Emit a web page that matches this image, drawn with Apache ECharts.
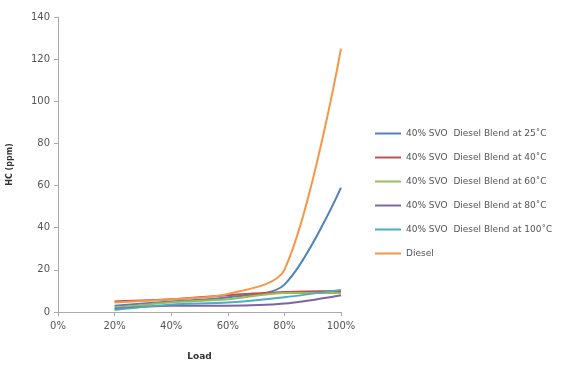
<!DOCTYPE html>
<html><head><meta charset="utf-8">
<script src="https://cdn.jsdelivr.net/npm/echarts@6/dist/echarts.min.js"></script>
<style>html,body{margin:0;padding:0;background:#fff}#c{width:571px;height:366px}</style>
</head><body><div id="c"></div>
<script>
const categories = ['0%', '20%', '40%', '60%', '80%', '100%'];
const seriesNames = [
  '40% SVO  Diesel Blend at 25\u02daC',
  '40% SVO  Diesel Blend at 40\u02daC',
  '40% SVO  Diesel Blend at 60\u02daC',
  '40% SVO  Diesel Blend at 80\u02daC',
  '40% SVO  Diesel Blend at 100\u02daC',
  'Diesel'
];
const blend25 = ['-', 3, 5, 7, 13, 59];
const blend40 = ['-', 5, 6, 8, 9.5, 10];
const blend60 = ['-', 2, 4.5, 6, 9, 9];
const blend80 = ['-', 1.5, 3, 3, 4, 8];
const blend100 = ['-', 1, 3.5, 4.5, 7, 10.5];
const diesel = ['-', 4.5, 6, 8.5, 20, 125];
const yTicks = [0, 20, 40, 60, 80, 100, 120, 140];

const colors = ['#4F81BD', '#C0504D', '#9BBB59', '#8064A2', '#4BACC6', '#F79646'];
const allData = [blend25, blend40, blend60, blend80, blend100, diesel];

const chart = echarts.init(document.getElementById('c'));
chart.setOption({
  animation: false,
  backgroundColor: '#fff',
  color: colors,
  grid: { left: 58, right: 230, top: 17, bottom: 53 },
  xAxis: {
    type: 'category', data: categories, boundaryGap: false,
    name: 'Load', nameLocation: 'middle', nameGap: 40,
    nameTextStyle: { fontFamily: 'DejaVu Sans', fontSize: 9, fontWeight: 'bold', color: '#333' },
    axisLine: { lineStyle: { color: '#aaa' } },
    axisTick: { show: true, alignWithLabel: true, length: 4, lineStyle: { color: '#aaa' } },
    axisLabel: { fontFamily: 'DejaVu Sans', fontSize: 10, color: '#555', margin: 9 },
    splitLine: { show: false }
  },
  yAxis: {
    type: 'value', min: yTicks[0], max: yTicks[yTicks.length - 1], interval: 20,
    name: 'HC (ppm)', nameLocation: 'middle', nameGap: 44, nameRotate: 90,
    nameTextStyle: { fontFamily: 'DejaVu Sans', fontSize: 8, fontWeight: 'bold', color: '#333' },
    axisLine: { show: true, lineStyle: { color: '#aaa' } },
    axisTick: { show: true, length: 4, lineStyle: { color: '#aaa' } },
    axisLabel: { fontFamily: 'DejaVu Sans', fontSize: 10, color: '#555', margin: 8 },
    splitLine: { show: false }
  },
  legend: {
    orient: 'vertical', left: 370, top: 124,
    itemWidth: 26, itemHeight: 2, itemGap: 15, icon: 'rect',
    textStyle: { fontFamily: 'DejaVu Sans', fontSize: 9, color: '#555' },
    data: seriesNames
  },
  series: allData.map((d, i) => ({
    name: seriesNames[i], type: 'line', data: d, smooth: 0.3,
    showSymbol: false, symbol: 'none',
    lineStyle: { width: 2, color: colors[i] }
  }))
});
</script></body></html>
